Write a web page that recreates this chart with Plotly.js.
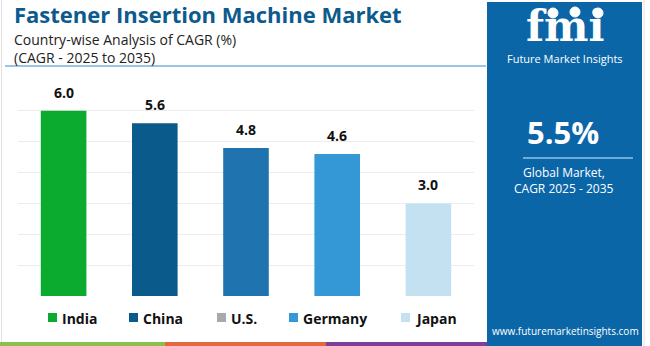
<!DOCTYPE html>
<html>
<head>
<meta charset="utf-8">
<script src="https://cdn.plot.ly/plotly-3.0.1.min.js"></script>
<style>html,body{margin:0;padding:0;background:#fff;}#chart{width:650px;height:346px;}</style>
</head>
<body>
<div id="chart"></div>
<script>
// ---- data ----
const categories = ["India", "China", "U.S.", "Germany", "Japan"];
const cagrValues = [6.0, 5.6, 4.8, 4.6, 3.0];
const barColors = ["#0aab2e", "#0a5a8c", "#1f74b0", "#3497d6", "#c4e1f2"];
const legendColors = ["#0aab2e", "#0a5a8c", "#a9a9a9", "#3497d6", "#c4e1f2"];
const globalCagr = "5.5%";
const titleText = "Fastener Insertion Machine Market";
const subtitleLines = ["Country-wise Analysis of CAGR (%)", "(CAGR - 2025 to 2035)"];

// ---- layout helpers (pixel -> paper) ----
const W = 650, H = 346;
const M = {l: 18, r: 176, t: 80, b: 50};
const PW = W - M.l - M.r, PH = H - M.t - M.b;
const px = x => (x - M.l) / PW;
const py = y => (H - M.b - y) / PH;

const FONT = "Open Sans, sans-serif";
const annotations = [];
const shapes = [];

// value labels
categories.forEach((c, i) => {
  annotations.push({x: c, y: cagrValues[i], xref: "x", yref: "y", text: "<b>" + cagrValues[i].toFixed(1) + "</b>",
    showarrow: false, yanchor: "bottom", yshift: 7, font: {family: FONT, size: 14, color: "#111"}});
});

// titles
annotations.push({xref: "paper", yref: "paper", x: px(12), y: py(14), xanchor: "left", yanchor: "middle",
  text: "<b>" + titleText + "</b>", showarrow: false, font: {family: FONT, size: 22, color: "#0d5a8c"}});
subtitleLines.forEach((t, i) => {
  annotations.push({xref: "paper", yref: "paper", x: px(12), y: py(39.5 + i * 18), xanchor: "left", yanchor: "middle",
    text: t, showarrow: false, font: {family: FONT, size: 14, color: "#222"}});
});
shapes.push({type: "line", xref: "paper", yref: "paper", x0: px(5), x1: px(486), y0: py(66), y1: py(66),
  line: {color: "#3a8cc8", width: 1.2}});

// legend (custom, built from categories)
const legendX = [48, 129, 217, 289, 401];
categories.forEach((c, i) => {
  shapes.push({type: "rect", xref: "paper", yref: "paper", x0: px(legendX[i]), x1: px(legendX[i] + 9),
    y0: py(313), y1: py(322), fillcolor: legendColors[i], line: {width: 0}});
  annotations.push({xref: "paper", yref: "paper", x: px(legendX[i] + 12), y: py(318), xanchor: "left", yanchor: "middle",
    text: "<b>" + c + "</b>", showarrow: false, font: {family: FONT, size: 14, color: "#111"}});
});

// right panel
shapes.push({type: "rect", xref: "paper", yref: "paper", x0: px(487), x1: px(642), y0: py(2), y1: py(346),
  fillcolor: "#0b66a8", line: {width: 0}});
// fmi logo
annotations.push({xref: "paper", yref: "paper", x: px(565), y: py(27), xanchor: "center", yanchor: "middle",
  text: "<b>fmi</b>", showarrow: false, font: {family: "DejaVu Serif, serif", size: 42, color: "#fff"}});
for (let k = 0; k < 6; k++) {
  const yy = 19 + k * 5;
  shapes.push({type: "line", xref: "paper", yref: "paper", x0: px(510), x1: px(620), y0: py(yy), y1: py(yy),
    line: {color: "#0b66a8", width: 1}});
}
[[553, 13], [575, 12], [598, 13]].forEach(([cx, cy]) => {
  shapes.push({type: "circle", xref: "paper", yref: "paper", x0: px(cx - 5), x1: px(cx + 5), y0: py(cy - 5), y1: py(cy + 5),
    fillcolor: "#fff", line: {color: "#fff", width: 1}});
});
annotations.push({xref: "paper", yref: "paper", x: px(565), y: py(58), xanchor: "center", yanchor: "middle",
  text: "Future Market Insights", showarrow: false, font: {family: FONT, size: 11, color: "#fff"}});
annotations.push({xref: "paper", yref: "paper", x: px(563), y: py(132), xanchor: "center", yanchor: "middle",
  text: "<b>" + globalCagr + "</b>", showarrow: false, font: {family: FONT, size: 31, color: "#fff"}});
shapes.push({type: "line", xref: "paper", yref: "paper", x0: px(523), x1: px(633), y0: py(158), y1: py(158),
  line: {color: "#8cc4ea", width: 1.5}});
annotations.push({xref: "paper", yref: "paper", x: px(564), y: py(172), xanchor: "center", yanchor: "middle",
  text: "Global Market,", showarrow: false, font: {family: FONT, size: 12, color: "#fff"}});
annotations.push({xref: "paper", yref: "paper", x: px(564), y: py(188), xanchor: "center", yanchor: "middle",
  text: "CAGR 2025 - 2035", showarrow: false, font: {family: FONT, size: 12, color: "#fff"}});
annotations.push({xref: "paper", yref: "paper", x: px(565), y: py(331), xanchor: "center", yanchor: "middle",
  text: "www.futuremarketinsights.com", showarrow: false, font: {family: FONT, size: 10, color: "#fff"}});

// bottom strip
[[0, 165, "#8cbf4b"], [165, 326, "#e5673d"], [326, 487, "#7d3f97"]].forEach(([a, b, col]) => {
  shapes.push({type: "rect", xref: "paper", yref: "paper", x0: px(a), x1: px(b), y0: py(342), y1: py(346),
    fillcolor: col, line: {width: 0}});
});
// borders
shapes.push({type: "line", xref: "paper", yref: "paper", x0: px(1.5), x1: px(1.5), y0: py(0), y1: py(342), line: {color: "#e2e2e2", width: 1}});
shapes.push({type: "line", xref: "paper", yref: "paper", x0: px(644), x1: px(644), y0: py(0), y1: py(346), line: {color: "#e2e2e2", width: 1}});

const trace = {
  type: "bar", x: categories, y: cagrValues,
  marker: {color: barColors, line: {width: 0}},
  width: 0.5, hoverinfo: "skip", showlegend: false
};

const layout = {
  width: W, height: H,
  margin: M,
  paper_bgcolor: "#fff", plot_bgcolor: "#fff",
  showlegend: false,
  xaxis: {type: "category", showticklabels: false, ticks: "", showgrid: false, zeroline: false, showline: false, fixedrange: true},
  yaxis: {range: [0, 7], dtick: 1, showticklabels: false, ticks: "", showgrid: true, gridcolor: "#ededed", gridwidth: 1,
    zeroline: false, showline: false, fixedrange: true},
  annotations: annotations,
  shapes: shapes
};

Plotly.newPlot("chart", [trace], layout, {staticPlot: true, displayModeBar: false});
</script>
</body>
</html>
